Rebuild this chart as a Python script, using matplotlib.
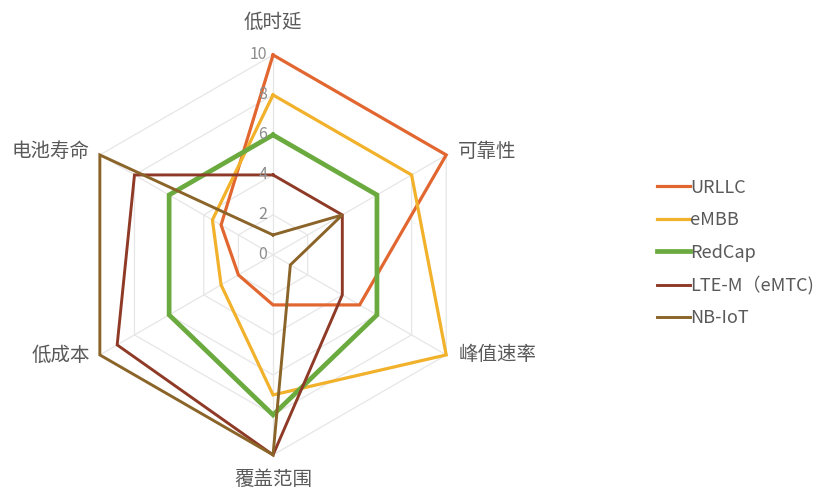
import numpy as np
import matplotlib
matplotlib.use("Agg")
import matplotlib.pyplot as plt

plt.rcParams['font.family'] = ['Noto Sans CJK SC', 'DejaVu Sans']

categories = ['低时延', '可靠性', '峰值速率', '覆盖范围', '低成本', '电池寿命']
series_names = ['URLLC', 'eMBB', 'RedCap', 'LTE-M（eMTC)', 'NB-IoT']
urllc = [10, 10, 5, 2.5, 2, 3]
embb = [8, 8, 10, 7, 3, 3.5]
redcap = [6, 6, 6, 8, 6, 6]
ltem = [4, 4, 4, 10, 9, 8]
nbiot = [1, 4, 1, 10, 10, 10]
r_ticks = [0, 2, 4, 6, 8, 10]

colors = ['#E2662F', '#F2B12A', '#6AAA3E', '#8E3A26', '#8A6428']
widths = [2.3, 2.3, 3.4, 2.1, 2.1]

n = len(categories)
angles = np.linspace(0, 2 * np.pi, n, endpoint=False)
closed = np.append(angles, angles[0])

fig = plt.figure(figsize=(8.27, 4.95), dpi=100)
ax = fig.add_axes([0.0883, 0.081, 0.4837, 0.808], projection='polar')
ax.set_theta_offset(np.pi / 2)
ax.set_theta_direction(-1)
ax.set_ylim(0, 10)
ax.set_xticks([])
ax.set_yticks([])
ax.grid(False)
ax.spines['polar'].set_visible(False)
ax.patch.set_alpha(0)

# hexagon grid
for r in r_ticks[1:]:
    ax.plot(closed, [r] * (n + 1), color='#E6E6E6', lw=0.9, zorder=0)
for a in angles:
    ax.plot([a, a], [0, 10], color='#E6E6E6', lw=0.9, zorder=0)

for r in r_ticks:
    ax.annotate(str(r), xy=(0, r), xytext=(-6, 0), textcoords='offset pixels',
                ha='right', va='center', fontsize=11.5, color='#8C8C8C')

for vals, name, c, w in zip([urllc, embb, redcap, ltem, nbiot], series_names, colors, widths):
    v = np.append(vals, vals[0])
    ax.plot(closed, v, color=c, lw=w, label=name, clip_on=False, solid_joinstyle='miter')

offsets = [(0, 33, 'center', 'center'), (12, 3, 'left', 'center'), (12, 0, 'left', 'center'),
           (0, -25, 'center', 'center'), (-10, 0, 'right', 'center'), (-10, 3, 'right', 'center')]
for a, cat, (dx, dy, ha, va) in zip(angles, categories, offsets):
    ax.annotate(cat, xy=(a, 10), xytext=(dx, dy), textcoords='offset pixels',
                ha=ha, va=va, fontsize=14, color='#595959', annotation_clip=False)

fig.legend(loc='center left', bbox_to_anchor=(657 / 827, 1 - 253 / 495), frameon=False,
           fontsize=13, handlelength=1.8, handletextpad=0.05, labelspacing=0.8,
           borderpad=0, borderaxespad=0, labelcolor='#595959')

fig.savefig('out.png', dpi=100, facecolor='white')
